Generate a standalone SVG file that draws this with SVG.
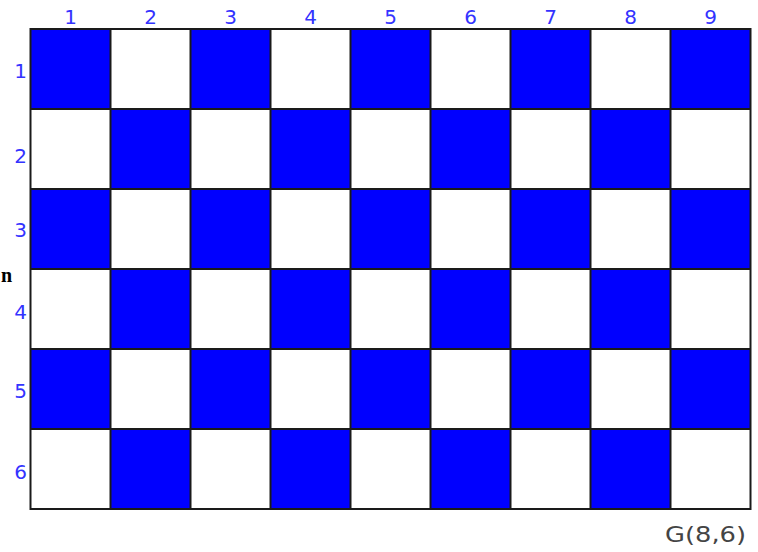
<svg xmlns="http://www.w3.org/2000/svg" width="758" height="552" viewBox="0 0 758 552">
<style>
.b{fill:#0000ff}
.w{fill:#ffffff}
.grid{stroke:#1a1a1a;stroke-width:2;fill:none}
.lbl{font-family:"DejaVu Sans",Verdana,sans-serif;font-size:20px;fill:#3333ff}
.col{text-anchor:middle}
.row{text-anchor:end}
.cap{font-family:"DejaVu Sans",Verdana,sans-serif;font-size:21px;fill:#444444}
</style>
<rect width="758" height="552" fill="#ffffff"/>
<g id="board">
<rect class="b" x="30.5" y="29" width="80" height="80"/>
<rect class="w" x="110.5" y="29" width="80" height="80"/>
<rect class="b" x="190.5" y="29" width="80" height="80"/>
<rect class="w" x="270.5" y="29" width="80" height="80"/>
<rect class="b" x="350.5" y="29" width="80" height="80"/>
<rect class="w" x="430.5" y="29" width="80" height="80"/>
<rect class="b" x="510.5" y="29" width="80" height="80"/>
<rect class="w" x="590.5" y="29" width="80" height="80"/>
<rect class="b" x="670.5" y="29" width="80" height="80"/>

<rect class="b" x="110.5" y="109" width="80" height="80"/>
<rect class="b" x="270.5" y="109" width="80" height="80"/>
<rect class="b" x="430.5" y="109" width="80" height="80"/>
<rect class="b" x="590.5" y="109" width="80" height="80"/>

<rect class="b" x="30.5" y="189" width="80" height="80"/>
<rect class="b" x="190.5" y="189" width="80" height="80"/>
<rect class="b" x="350.5" y="189" width="80" height="80"/>
<rect class="b" x="510.5" y="189" width="80" height="80"/>
<rect class="b" x="670.5" y="189" width="80" height="80"/>

<rect class="b" x="110.5" y="269" width="80" height="80"/>
<rect class="b" x="270.5" y="269" width="80" height="80"/>
<rect class="b" x="430.5" y="269" width="80" height="80"/>
<rect class="b" x="590.5" y="269" width="80" height="80"/>

<rect class="b" x="30.5" y="349" width="80" height="80"/>
<rect class="b" x="190.5" y="349" width="80" height="80"/>
<rect class="b" x="350.5" y="349" width="80" height="80"/>
<rect class="b" x="510.5" y="349" width="80" height="80"/>
<rect class="b" x="670.5" y="349" width="80" height="80"/>

<rect class="b" x="110.5" y="429" width="80" height="80"/>
<rect class="b" x="270.5" y="429" width="80" height="80"/>
<rect class="b" x="430.5" y="429" width="80" height="80"/>
<rect class="b" x="590.5" y="429" width="80" height="80"/>
</g>
<g id="gridlines">
<rect class="grid" x="30.5" y="29" width="720" height="480"/>
<path class="grid" d="M110.5 29V509M190.5 29V509M270.5 29V509M350.5 29V509M430.5 29V509M510.5 29V509M590.5 29V509M670.5 29V509M30.5 109H750.5M30.5 189H750.5M30.5 269H750.5M30.5 349H750.5M30.5 429H750.5"/>
</g>
<g id="col-labels">
<text class="lbl col" x="70.5" y="24">1</text>
<text class="lbl col" x="150.5" y="24">2</text>
<text class="lbl col" x="230.5" y="24">3</text>
<text class="lbl col" x="310.5" y="24">4</text>
<text class="lbl col" x="390.5" y="24">5</text>
<text class="lbl col" x="470.5" y="24">6</text>
<text class="lbl col" x="550.5" y="24">7</text>
<text class="lbl col" x="630.5" y="24">8</text>
<text class="lbl col" x="710.5" y="24">9</text>
</g>
<g id="row-labels">
<text class="lbl row" x="27" y="78">1</text>
<text class="lbl row" x="27" y="163">2</text>
<text class="lbl row" x="27" y="237">3</text>
<text class="lbl row" x="27" y="319">4</text>
<text class="lbl row" x="27" y="398">5</text>
<text class="lbl row" x="27" y="479">6</text>
</g>
<text x="1" y="282" font-family="Liberation Serif,serif" font-weight="bold" font-size="20" fill="#000">n</text>
<text class="cap" x="665" y="542" textLength="81" lengthAdjust="spacingAndGlyphs">G(8,6)</text>
</svg>
